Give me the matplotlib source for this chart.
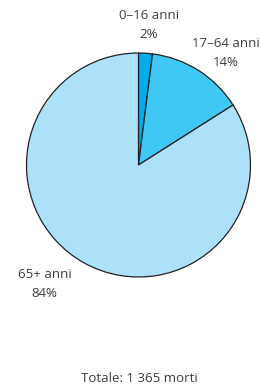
import matplotlib
matplotlib.use("Agg")
import matplotlib.pyplot as plt

categories = ["0\u201316 anni", "17\u201364 anni", "65+ anni"]
percentages = [2, 14, 84]
total_label = "Totale: 1 365 morti"
colors = ["#00AEEF", "#3FC8F4", "#ADE1FA"]

W, H = 261, 387
fig = plt.figure(figsize=(W / 100, H / 100), dpi=100)
cx, cy, r = 138.5, 165, 112
ax = fig.add_axes([(cx - r) / W, 1 - (cy + r) / H, 2 * r / W, 2 * r / H])
ax.pie(percentages, colors=colors, startangle=90, counterclock=False,
       wedgeprops=dict(edgecolor="#222222", linewidth=0.9), radius=1)
ax.set_xlim(-1, 1)
ax.set_ylim(-1, 1)
ax.set_aspect("equal")
ax.axis("off")

font = dict(family=["Open Sans", "DejaVu Sans"], fontsize=9.5, color="#3d3d3d",
            ha="center", va="center", linespacing=1.6)
label_pos = [(0.094, 1.25), (0.78, 1.0), (-0.84, -1.06)]
for cat, pct, (x, y) in zip(categories, percentages, label_pos):
    ax.text(x, y, f"{cat}\n{pct}%", clip_on=False, **font)

fig.text(139 / W, 1 - 378 / H, total_label, **font)
fig.savefig("out.png", dpi=100)
